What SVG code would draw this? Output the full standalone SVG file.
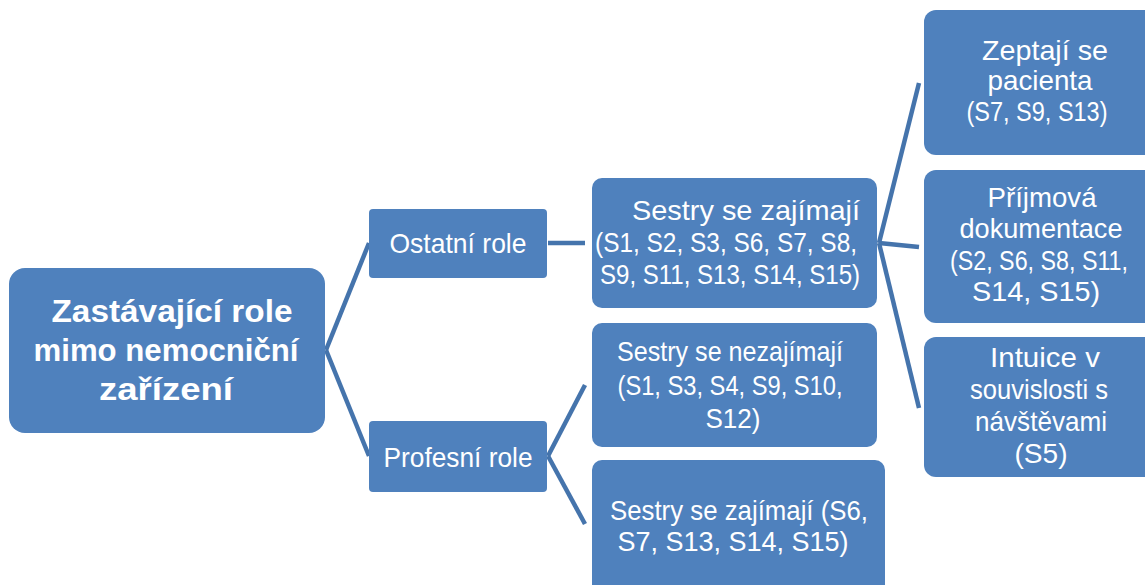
<svg xmlns="http://www.w3.org/2000/svg" width="1145" height="585" viewBox="0 0 1145 585">
  <style>
    .box { fill: #4F81BD; }
    .lbl { fill: #FFFFFF; font-family: "Liberation Sans", Arial, sans-serif; font-size: 28px; text-anchor: middle; }
    .root { font-size: 31px; font-weight: bold; }
    .link { stroke: #4574AC; stroke-width: 4.5; fill: none; stroke-linecap: butt; }
  </style>
  <rect width="1145" height="585" fill="#FFFFFF"/>

  <g id="connectors">
    <line class="link" x1="326" y1="350" x2="369" y2="243"/>
    <line class="link" x1="326" y1="350" x2="369" y2="456"/>
    <line class="link" x1="548" y1="243" x2="585" y2="243"/>
    <line class="link" x1="548" y1="456" x2="585" y2="385"/>
    <line class="link" x1="548" y1="456" x2="585" y2="524"/>
    <line class="link" x1="879" y1="243" x2="919" y2="83"/>
    <line class="link" x1="879" y1="243" x2="919" y2="247"/>
    <line class="link" x1="879" y1="243" x2="919" y2="408"/>
  </g>

  <g id="root">
    <rect class="box" x="9" y="268" width="316" height="165" rx="16"/>
    <text class="lbl root" x="172" y="322" textLength="241" lengthAdjust="spacingAndGlyphs">Zastávající role</text>
    <text class="lbl root" x="166" y="361" textLength="265" lengthAdjust="spacingAndGlyphs">mimo nemocniční</text>
    <text class="lbl root" x="166" y="400" textLength="134" lengthAdjust="spacingAndGlyphs">zařízení</text>
  </g>

  <g id="ostatni-role">
    <rect class="box" x="369" y="209" width="178" height="69" rx="4"/>
    <text class="lbl" x="458" y="253" textLength="137" lengthAdjust="spacingAndGlyphs">Ostatní role</text>
  </g>

  <g id="profesni-role">
    <rect class="box" x="369" y="421" width="178" height="71" rx="4"/>
    <text class="lbl" x="458" y="467" textLength="149" lengthAdjust="spacingAndGlyphs">Profesní role</text>
  </g>

  <g id="sestry-zajimaji-ostatni">
    <rect class="box" x="592" y="178" width="285" height="130" rx="10"/>
    <text class="lbl" x="746" y="220" textLength="228" lengthAdjust="spacingAndGlyphs">Sestry se zajímají</text>
    <text class="lbl" x="726" y="252" textLength="262" lengthAdjust="spacingAndGlyphs">(S1, S2, S3, S6, S7, S8,</text>
    <text class="lbl" x="730" y="284" textLength="260" lengthAdjust="spacingAndGlyphs">S9, S11, S13, S14, S15)</text>
  </g>

  <g id="sestry-nezajimaji">
    <rect class="box" x="592" y="323" width="285" height="124" rx="10"/>
    <text class="lbl" x="730" y="361" textLength="226" lengthAdjust="spacingAndGlyphs">Sestry se nezajímají</text>
    <text class="lbl" x="730" y="395" textLength="225" lengthAdjust="spacingAndGlyphs">(S1, S3, S4, S9, S10,</text>
    <text class="lbl" x="733" y="428" textLength="55" lengthAdjust="spacingAndGlyphs">S12)</text>
  </g>

  <g id="sestry-zajimaji-profesni">
    <rect class="box" x="592" y="460" width="293" height="140" rx="10"/>
    <text class="lbl" x="739" y="520" textLength="258" lengthAdjust="spacingAndGlyphs">Sestry se zajímají (S6,</text>
    <text class="lbl" x="733" y="551" textLength="231" lengthAdjust="spacingAndGlyphs">S7, S13, S14, S15)</text>
  </g>

  <g id="zeptaji-se">
    <rect class="box" x="924" y="10" width="232" height="145" rx="12"/>
    <text class="lbl" x="1045" y="60" textLength="126" lengthAdjust="spacingAndGlyphs">Zeptají se</text>
    <text class="lbl" x="1040" y="90" textLength="105" lengthAdjust="spacingAndGlyphs">pacienta</text>
    <text class="lbl" x="1037" y="121" textLength="141" lengthAdjust="spacingAndGlyphs">(S7, S9, S13)</text>
  </g>

  <g id="prijmova-dokumentace">
    <rect class="box" x="924" y="170" width="232" height="153" rx="12"/>
    <text class="lbl" x="1042" y="207" textLength="109" lengthAdjust="spacingAndGlyphs">Příjmová</text>
    <text class="lbl" x="1041" y="238" textLength="163" lengthAdjust="spacingAndGlyphs">dokumentace</text>
    <text class="lbl" x="1039" y="270" textLength="178" lengthAdjust="spacingAndGlyphs">(S2, S6, S8, S11,</text>
    <text class="lbl" x="1036" y="301" textLength="128" lengthAdjust="spacingAndGlyphs">S14, S15)</text>
  </g>

  <g id="intuice">
    <rect class="box" x="924" y="337" width="232" height="140" rx="12"/>
    <text class="lbl" x="1045" y="367" textLength="110" lengthAdjust="spacingAndGlyphs">Intuice v</text>
    <text class="lbl" x="1039" y="399" textLength="138" lengthAdjust="spacingAndGlyphs">souvislosti s</text>
    <text class="lbl" x="1041" y="431" textLength="132" lengthAdjust="spacingAndGlyphs">návštěvami</text>
    <text class="lbl" x="1041" y="463" textLength="53" lengthAdjust="spacingAndGlyphs">(S5)</text>
  </g>
</svg>
